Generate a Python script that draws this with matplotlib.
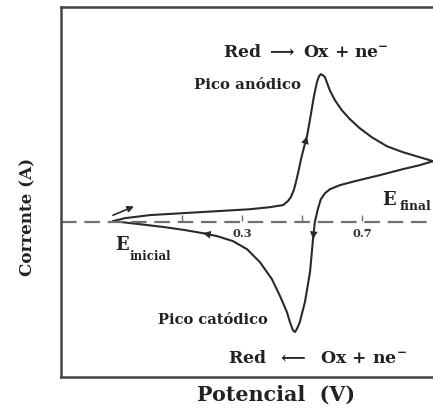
import matplotlib
matplotlib.use("Agg")
import matplotlib.pyplot as plt

# Forward (anodic) scan: potential (V) and current (arbitrary units)
fwd_E = [-0.13, -0.09, -0.007, 0.16, 0.327, 0.393, 0.437, 0.453, 0.463, 0.473, 0.48,
         0.487, 0.497, 0.507, 0.517, 0.53, 0.54, 0.55, 0.557, 0.563, 0.57, 0.577, 0.583,
         0.593, 0.61, 0.633, 0.66, 0.693, 0.733, 0.783, 0.837, 0.893, 0.937]
fwd_I = [0.007, 0.027, 0.048, 0.068, 0.088, 0.102, 0.116, 0.143, 0.17, 0.218, 0.272,
         0.333, 0.429, 0.51, 0.585, 0.735, 0.857, 0.952, 0.993, 1.007, 1.0, 0.986, 0.952,
         0.898, 0.83, 0.762, 0.701, 0.639, 0.578, 0.517, 0.476, 0.442, 0.415]
# Reverse (cathodic) scan
rev_E = [0.937, 0.893, 0.837, 0.76, 0.677, 0.627, 0.593, 0.577, 0.563, 0.553, 0.543,
         0.537, 0.527, 0.51, 0.493, 0.483, 0.477, 0.47, 0.46, 0.45, 0.427, 0.4, 0.36,
         0.317, 0.27, 0.217, 0.17, 0.11, 0.043, -0.04, -0.13]
rev_I = [0.415, 0.388, 0.361, 0.32, 0.279, 0.252, 0.224, 0.197, 0.156, 0.088, 0.0,
         -0.116, -0.34, -0.544, -0.68, -0.728, -0.748, -0.735, -0.68, -0.612, -0.503,
         -0.388, -0.272, -0.184, -0.129, -0.095, -0.075, -0.054, -0.034, -0.014, 0.007]

tick_pos = [0.1, 0.3, 0.5, 0.7]
tick_labels = ["0.3", "0.7"]
tick_label_pos = [0.3, 0.703]

plt.rcParams['font.family'] = ['DejaVu Serif']
plt.rcParams['mathtext.fontset'] = 'dejavuserif'

fig = plt.figure(figsize=(4.33, 4.10), dpi=100)
ax = fig.add_axes([0.141, 0.078, 0.859, 0.902])
ax.set_xlim(-0.303, 0.937)
ax.set_ylim(-1.054, 1.463)

line_col = '#2a2a2a'
txt_col = '#222222'
ax.plot(fwd_E, fwd_I, color=line_col, lw=1.5, solid_joinstyle='round', solid_capstyle='round')
ax.plot(rev_E, rev_I, color=line_col, lw=1.5, solid_joinstyle='round', solid_capstyle='round')

# dashed zero line
ax.axhline(0, color='#707070', lw=1.6, dashes=(7, 3.5))

# small ticks on the zero line
ax.plot(tick_pos, [0.025] * len(tick_pos), linestyle='none', marker='|',
        markersize=4, color='#707070', mew=1)

renderer = fig.canvas.get_renderer()


def fit_text(target_w, *args, **kw):
    """Create text and scale its font so its rendered width is target_w pixels."""
    t = ax.text(*args, **kw)
    ext = t.get_window_extent(renderer)
    w = ext.height if kw.get('rotation', 0) else ext.width
    t.set_fontsize(t.get_fontsize() * target_w / w)
    return t


for p, lab in zip(tick_label_pos, tick_labels):
    fit_text(20, p, -0.035, lab, ha='center', va='top', fontsize=9,
             fontweight='bold', color='#333333')


# direction arrows on the curve
def arrow_on(xs, ys, i, j):
    ax.annotate('', xy=(xs[j], ys[j]), xytext=(xs[i], ys[i]),
                arrowprops=dict(arrowstyle='-|>', color=line_col, lw=0,
                                mutation_scale=14, shrinkA=0, shrinkB=0))


arrow_on(fwd_E, fwd_I, 13, 14)
arrow_on(rev_E, rev_I, 10, 11)
arrow_on(rev_E, rev_I, 25, 26)

# start arrow above E inicial
ax.annotate('', xy=(fwd_E[1] + 0.03, fwd_I[1] + 0.08), xytext=(fwd_E[0] + 0.0, fwd_I[0] + 0.04),
            arrowprops=dict(arrowstyle='-|>', color=line_col, lw=1.2,
                            mutation_scale=9, shrinkA=0, shrinkB=0))

# spines
for s in ['left', 'bottom', 'top']:
    ax.spines[s].set_linewidth(1.8)
    ax.spines[s].set_color('#444444')
ax.spines['right'].set_visible(False)
ax.set_xticks([])
ax.set_yticks([])

# annotations
fit_text(165, 0.513, 1.163, r"Red $\mathbf{\longrightarrow}$ Ox + ne$^{\mathbf{-}}$", ha='center', va='center',
         fontsize=12, fontweight='bold', color=txt_col)
fit_text(106, 0.317, 0.939, "Pico anódico", ha='center', va='center', fontsize=9,
         fontweight='bold', color=txt_col)
fit_text(110, 0.203, -0.66, "Pico catódico", ha='center', va='center', fontsize=9,
         fontweight='bold', color=txt_col)
fit_text(178, 0.553, -0.918, r"Red  $\mathbf{\longleftarrow}$  Ox + ne$^{\mathbf{-}}$", ha='center', va='center',
         fontsize=12, fontweight='bold', color=txt_col)
ax.text(0.767, 0.156, "E", ha='left', va='center', fontsize=13, fontweight='bold', color=txt_col)
fit_text(32, 0.827, 0.112, "final", ha='left', va='center', fontsize=6, fontweight='bold', color=txt_col)
ax.text(-0.123, -0.15, "E", ha='left', va='center', fontsize=13, fontweight='bold', color=txt_col)
fit_text(42, -0.073, -0.224, "inicial", ha='left', va='center', fontsize=6, fontweight='bold', color=txt_col)

fit_text(158, 0.637, 0.037, "Potencial  (V)", ha='center', va='center', fontsize=14,
         fontweight='bold', color=txt_col, transform=fig.transFigure)
fit_text(118, 0.065, 0.471, "Corrente (A)", ha='center', va='center', rotation=90,
         fontsize=14, fontweight='bold', color=txt_col, transform=fig.transFigure)

fig.savefig("out.png", dpi=100)
